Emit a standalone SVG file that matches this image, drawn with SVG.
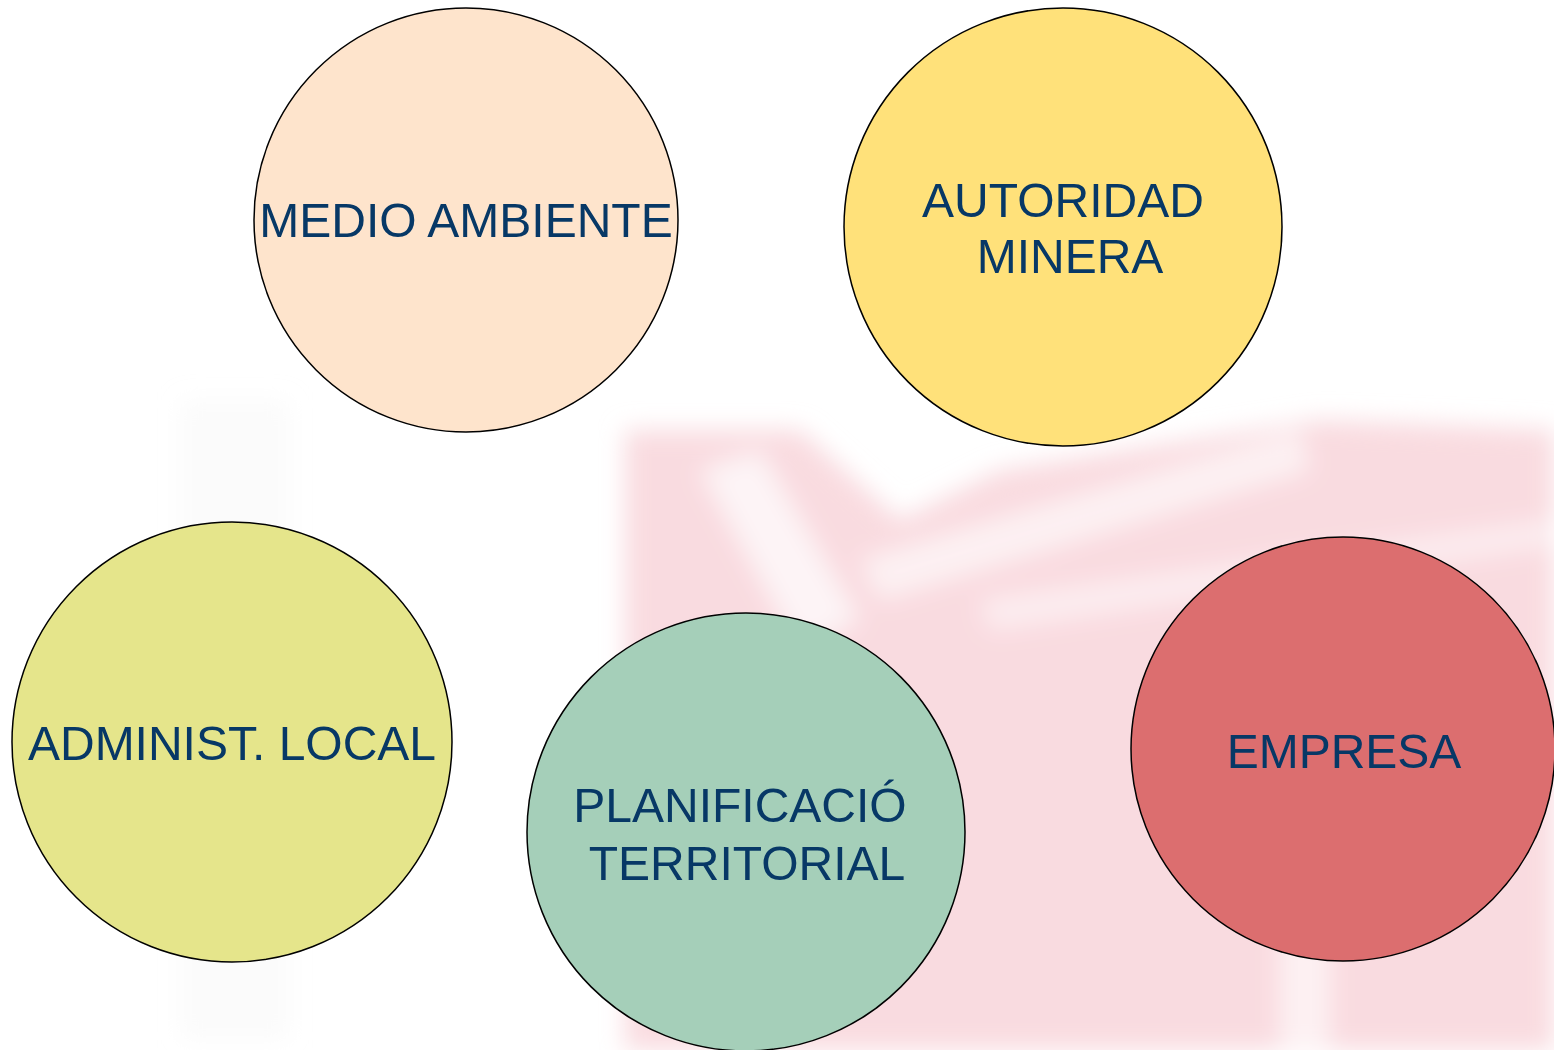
<svg xmlns="http://www.w3.org/2000/svg" width="1554" height="1050" viewBox="0 0 1554 1050">
  <defs>
    <style>
      .node { stroke: #000000; stroke-width: 1.5; }
      .label { font-family: "Liberation Sans", Arial, sans-serif; font-size: 48px; fill: #073866; text-anchor: middle; }
    </style>
    <filter id="blur" x="-10%" y="-10%" width="120%" height="120%">
      <feGaussianBlur stdDeviation="12"/>
    </filter>
  </defs>
  <rect x="0" y="0" width="1554" height="1050" fill="#ffffff"/>
  <g id="watermark" filter="url(#blur)">
    <path d="M625 430 L800 430 L900 520 L1000 470 L1320 420 L1554 430 L1554 1050 L625 1050 Z" fill="#f9dbe0"/>
    <path d="M700 470 L760 450 L860 620 L800 650 Z" fill="#ffffff" opacity="0.7"/>
    <path d="M860 560 L1300 430 L1310 470 L880 600 Z" fill="#ffffff" opacity="0.6"/>
    <path d="M980 600 L1554 520 L1554 545 L990 630 Z" fill="#ffffff" opacity="0.5"/>
    <rect x="1280" y="560" width="50" height="490" fill="#ffffff" opacity="0.6"/>
    <rect x="180" y="400" width="110" height="640" fill="#eeeeee" opacity="0.25"/>
  </g>
  <g id="connectors"></g>
  <g id="node-medio-ambiente">
    <ellipse class="node" cx="466" cy="220" rx="212" ry="212" fill="#fee4cc"/>
    <text class="label" x="466" y="237">MEDIO AMBIENTE</text>
  </g>
  <g id="node-autoridad-minera">
    <ellipse class="node" cx="1063" cy="227" rx="219" ry="219" fill="#ffe17a"/>
    <text class="label" x="1063" y="217">AUTORIDAD</text>
    <text class="label" x="1070" y="273">MINERA</text>
  </g>
  <g id="node-administ-local">
    <ellipse class="node" cx="232" cy="742" rx="220" ry="220" fill="#e5e58b"/>
    <text class="label" x="232" y="760">ADMINIST. LOCAL</text>
  </g>
  <g id="node-planificacio">
    <ellipse class="node" cx="746" cy="832" rx="219" ry="219" fill="#a5cfb9"/>
    <text class="label" x="740" y="822">PLANIFICACIÓ</text>
    <text class="label" x="747" y="880">TERRITORIAL</text>
  </g>
  <g id="node-empresa">
    <ellipse class="node" cx="1343" cy="749" rx="212" ry="212" fill="#dc6e6f"/>
    <text class="label" x="1344" y="768">EMPRESA</text>
  </g>
</svg>
